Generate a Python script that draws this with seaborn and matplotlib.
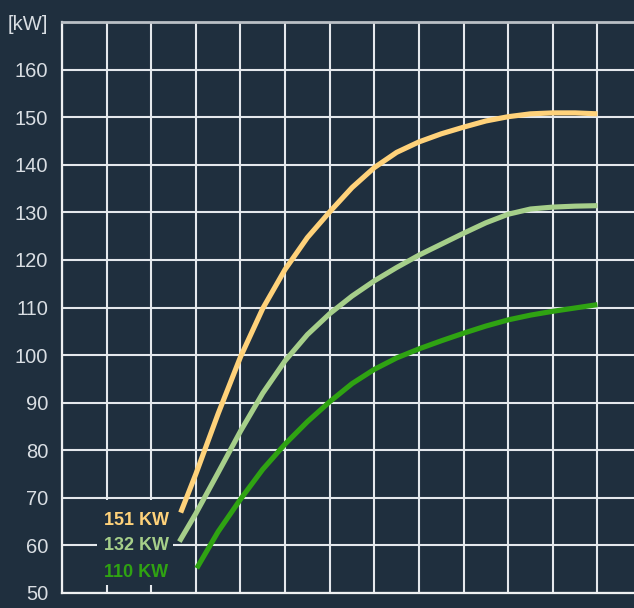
import numpy as np
import pandas as pd
import matplotlib
matplotlib.use('Agg')
import matplotlib.pyplot as plt
import seaborn as sns
from matplotlib.patches import Rectangle

# values (x in grid steps, y in kW)
x_151 = [2.66, 3.0, 3.5, 4.0, 4.5, 5.0, 5.5, 6.0, 6.5, 7.0, 7.5, 8.0, 8.5, 9.0, 9.5, 10.0, 10.5, 11.0, 11.5, 12.0]
y_151 = [66.9, 75.0, 87.7, 99.6, 109.8, 118.0, 124.7, 130.1, 135.2, 139.4, 142.6, 144.8, 146.5, 147.9, 149.2, 150.1, 150.7, 150.9, 150.9, 150.7]

x_132 = [2.63, 3.0, 3.5, 4.0, 4.5, 5.0, 5.5, 6.0, 6.5, 7.0, 7.5, 8.0, 8.5, 9.0, 9.5, 10.0, 10.5, 11.0, 11.5, 12.0]
y_132 = [60.8, 66.7, 75.3, 84.0, 92.0, 98.8, 104.3, 108.7, 112.4, 115.6, 118.4, 121.0, 123.3, 125.6, 127.8, 129.6, 130.7, 131.1, 131.3, 131.4]

x_110 = [3.02, 3.5, 4.0, 4.5, 5.0, 5.5, 6.0, 6.5, 7.0, 7.5, 8.0, 8.5, 9.0, 9.5, 10.0, 10.5, 11.0, 11.5, 12.0]
y_110 = [55.2, 62.9, 69.7, 76.0, 81.3, 86.0, 90.2, 94.0, 97.0, 99.4, 101.3, 103.0, 104.6, 106.1, 107.4, 108.4, 109.2, 109.9, 110.6]

series_names = ['151 KW', '132 KW', '110 KW']
series_colors = ['#ffd27a', '#a6cf8a', '#2fa312']
y_ticks = [50, 60, 70, 80, 90, 100, 110, 120, 130, 140, 150, 160, 170]
y_labels = ['50', '60', '70', '80', '90', '100', '110', '120', '130', '140', '150', '160', '[kW]']

BG = '#1f2f3e'
GRID = '#e4e8ec'

sns.set_theme(style='dark')
plt.rcParams['font.family'] = ['Liberation Sans', 'DejaVu Sans']

fig = plt.figure(figsize=(6.34, 6.08), dpi=100, facecolor=BG)
ax = fig.add_axes([62 / 634, 15 / 608, 1 - 62 / 634, (593 - 22) / 608])
ax.set_facecolor(BG)

for xs, ys, name, col in zip([x_151, x_132, x_110], [y_151, y_132, y_110],
                             series_names, series_colors):
    df = pd.DataFrame({'x': xs, 'y': ys})
    sns.lineplot(data=df, x='x', y='y', ax=ax, color=col, linewidth=3.7,
                 sort=False, estimator=None, solid_capstyle='butt',
                 solid_joinstyle='round', zorder=4)

ax.set_xlim(0, 12.82)
ax.set_ylim(50, 170)
ax.set_xticks(np.arange(0, 13, 1))
ax.set_xticklabels([])
ax.set_yticks(y_ticks)
ax.set_yticklabels(y_labels)
ax.set_xlabel('')
ax.set_ylabel('')
ax.tick_params(axis='both', length=0)
ax.tick_params(axis='y', pad=10, labelsize=14.5, labelcolor='#d9dee3')
ax.grid(True, color=GRID, linewidth=1.5)
ax.set_axisbelow(True)

for side in ['left', 'bottom']:
    ax.spines[side].set_color('#eef0f2')
    ax.spines[side].set_linewidth(1.6)
ax.spines['top'].set_color('#b9bfc5')
ax.spines['top'].set_linewidth(2)
ax.spines['right'].set_visible(False)

# background patch behind the legend labels (hides the grid there)
ax.add_patch(Rectangle((0.78, 51.7), 1.71, 17.8, facecolor=BG, edgecolor='none', zorder=2))

for name, col, yv in zip(series_names, series_colors, [65.3, 59.9, 54.4]):
    ax.text(1.66, yv, name, color=col, fontsize=13, fontweight='bold',
            ha='center', va='center', zorder=5)

fig.savefig('out.png', dpi=100, facecolor=BG)
